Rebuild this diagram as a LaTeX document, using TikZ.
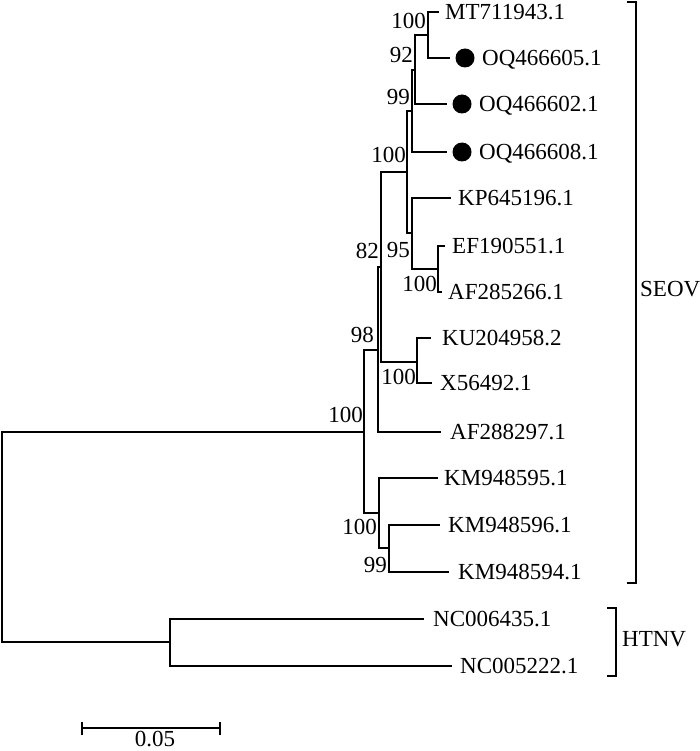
\documentclass[tikz,border=0pt]{standalone}
\usepackage{fontspec}
\setmainfont{Liberation Serif}
\newcommand{\treefs}{\fontsize{23}{27}\selectfont}
\begin{document}
\begin{tikzpicture}[x=1pt,y=-1pt,
  br/.style={line width=1.8pt, line cap=rect},
  leaf/.style={font=\treefs, inner sep=0pt, anchor=west, text height=15.3pt, text depth=0pt},
  boot/.style={font=\treefs, inner sep=0pt, anchor=east, text height=15.3pt, text depth=0pt},
  dot/.style={circle, fill=black, inner sep=0pt, minimum size=19pt}]
\useasboundingbox (0,0) rectangle (700,751);
% internal nodes
\coordinate (A) at (428,35);
\coordinate (B) at (415,70);
\coordinate (C) at (412,111);
\coordinate (E) at (438,269);
\coordinate (D) at (412,233);
\coordinate (F) at (407,172);
\coordinate (G) at (417,362);
\coordinate (H) at (381,267);
\coordinate (I) at (378,350);
\coordinate (K) at (389,548);
\coordinate (J) at (379,513);
\coordinate (L) at (364,432);
\coordinate (M) at (170,642);
\coordinate (R) at (2,537);
% leaf branch ends
\coordinate (e1) at (438,12);
\coordinate (e2) at (449,58);
\coordinate (e3) at (446,104);
\coordinate (e4) at (446,152);
\coordinate (e5) at (450,198);
\coordinate (e6) at (444,246);
\coordinate (e7) at (441,292);
\coordinate (e8) at (430,338);
\coordinate (e9) at (431,383);
\coordinate (e10) at (440,432);
\coordinate (e11) at (437,478);
\coordinate (e12) at (439,525);
\coordinate (e13) at (448,572);
\coordinate (e14) at (423,619);
\coordinate (e15) at (451,666);
% branches
\draw[br] (A) |- (e1); \draw[br] (A) |- (e2);
\draw[br] (B) |- (A); \draw[br] (B) |- (e3);
\draw[br] (C) |- (B); \draw[br] (C) |- (e4);
\draw[br] (E) |- (e6); \draw[br] (E) |- (e7);
\draw[br] (D) |- (e5); \draw[br] (D) |- (E);
\draw[br] (F) |- (C); \draw[br] (F) |- (D);
\draw[br] (G) |- (e8); \draw[br] (G) |- (e9);
\draw[br] (H) |- (F); \draw[br] (H) |- (G);
\draw[br] (I) |- (H); \draw[br] (I) |- (e10);
\draw[br] (K) |- (e12); \draw[br] (K) |- (e13);
\draw[br] (J) |- (e11); \draw[br] (J) |- (K);
\draw[br] (L) |- (I); \draw[br] (L) |- (J);
\draw[br] (M) |- (e14); \draw[br] (M) |- (e15);
\draw[br] (R) |- (L); \draw[br] (R) |- (M);
% dots
\node[dot] (d1) at (465,58) {};
\node[dot] (d2) at (462,104) {};
\node[dot] (d3) at (462,152) {};
% leaf labels
\node[leaf] (t1) at (445,12) {MT711943.1};
\node[leaf] (t2) at (482,58) {OQ466605.1};
\node[leaf] (t3) at (479,104) {OQ466602.1};
\node[leaf] (t4) at (479,152) {OQ466608.1};
\node[leaf] (t5) at (458,198) {KP645196.1};
\node[leaf] (t6) at (452,246) {EF190551.1};
\node[leaf] (t7) at (448,292) {AF285266.1};
\node[leaf] (t8) at (442,338) {KU204958.2};
\node[leaf] (t9) at (440,383) {X56492.1};
\node[leaf] (t10) at (450,432) {AF288297.1};
\node[leaf] (t11) at (444,478) {KM948595.1};
\node[leaf] (t12) at (448,525) {KM948596.1};
\node[leaf] (t13) at (458,572) {KM948594.1};
\node[leaf] (t14) at (433,619) {NC006435.1};
\node[leaf] (t15) at (460,666) {NC005222.1};
% bootstrap values
\node[boot] (bA) at (426,21) {100};
\node[boot] (bB) at (413,55) {92};
\node[boot] (bC) at (410,97) {99};
\node[boot] (bF) at (406,155) {100};
\node[boot] (bD) at (410,250) {95};
\node[boot] (bE) at (437,284) {100};
\node[boot] (bH) at (379,251) {82};
\node[boot] (bG) at (416,377) {100};
\node[boot] (bI) at (374,335) {98};
\node[boot] (bL) at (363,415) {100};
\node[boot] (bJ) at (377,527) {100};
\node[boot] (bK) at (387,565) {99};
% clade brackets
\coordinate (s1) at (627,2);
\coordinate (s2) at (636,2);
\coordinate (s3) at (636,583);
\coordinate (s4) at (627,583);
\draw[br, line cap=butt] (s1) -- (s2) -- (s3) -- (s4);
\node[leaf] (seov) at (640,289) {SEOV};
\coordinate (h1) at (607,608);
\coordinate (h2) at (616,608);
\coordinate (h3) at (616,676);
\coordinate (h4) at (607,676);
\draw[br, line cap=butt] (h1) -- (h2) -- (h3) -- (h4);
\node[leaf] (htnv) at (622,639) {HTNV};
% scale bar
\coordinate (sb1) at (82,728);
\coordinate (sb2) at (220,728);
\draw[br, line cap=butt] (sb1) -- (sb2);
\draw[br, line cap=butt] ([yshift=-7pt]sb1) -- ([yshift=6pt]sb1);
\draw[br, line cap=butt] ([yshift=-7pt]sb2) -- ([yshift=6pt]sb2);
\node[boot, anchor=center] (sbl) at (155,739) {0.05};
\end{tikzpicture}
\end{document}
